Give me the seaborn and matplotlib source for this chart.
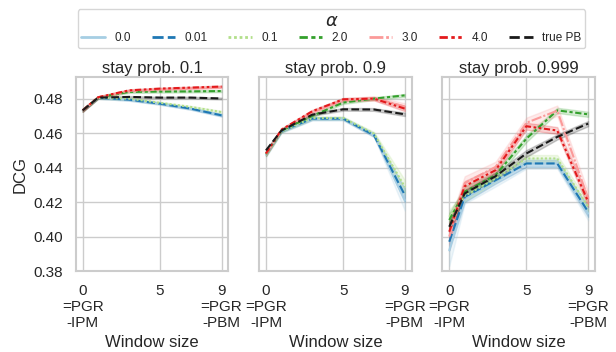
import pandas as pd
import matplotlib
matplotlib.use("Agg")
import matplotlib.pyplot as plt
import seaborn as sns

windows = [0, 1, 3, 5, 7, 9]
alphas = ["0.0", "0.01", "0.1", "2.0", "3.0", "4.0"]
stay_probs = ["0.1", "0.9", "0.999"]

# mean DCG per window size
mean_p01 = {
    "0.0": [0.4732, 0.4805, 0.4795, 0.4772, 0.4742, 0.4705],
    "0.01": [0.4732, 0.4805, 0.4794, 0.4771, 0.4742, 0.4703],
    "0.1": [0.4732, 0.4805, 0.4800, 0.4776, 0.4752, 0.4722],
    "2.0": [0.4732, 0.4807, 0.4839, 0.4841, 0.4842, 0.4844],
    "3.0": [0.4732, 0.4808, 0.4845, 0.4853, 0.4860, 0.4866],
    "4.0": [0.4732, 0.4808, 0.4848, 0.4858, 0.4864, 0.4870],
    "true PB": [0.4732, 0.4806, 0.4810, 0.4806, 0.4806, 0.4801],
}
mean_p09 = {
    "0.0": [0.4475, 0.4610, 0.4684, 0.4684, 0.4590, 0.4210],
    "0.01": [0.4480, 0.4612, 0.4684, 0.4684, 0.4588, 0.4240],
    "0.1": [0.4478, 0.4612, 0.4688, 0.4688, 0.4597, 0.4288],
    "2.0": [0.4478, 0.4615, 0.4700, 0.4777, 0.4800, 0.4819],
    "3.0": [0.4480, 0.4618, 0.4720, 0.4792, 0.4802, 0.4755],
    "4.0": [0.4482, 0.4620, 0.4727, 0.4796, 0.4800, 0.4742],
    "true PB": [0.4500, 0.4615, 0.4707, 0.4738, 0.4737, 0.4709],
}
mean_p0999 = {
    "0.0": [0.3920, 0.4220, 0.4320, 0.4424, 0.4424, 0.4134],
    "0.01": [0.3970, 0.4230, 0.4327, 0.4424, 0.4424, 0.4144],
    "0.1": [0.4115, 0.4236, 0.4337, 0.4453, 0.4453, 0.4173],
    "2.0": [0.4096, 0.4260, 0.4356, 0.4568, 0.4732, 0.4709],
    "3.0": [0.4000, 0.4310, 0.4404, 0.4660, 0.4730, 0.4221],
    "4.0": [0.4028, 0.4292, 0.4385, 0.4640, 0.4615, 0.4202],
    "true PB": [0.4057, 0.4250, 0.4350, 0.4482, 0.4578, 0.4655],
}

# half width of the shaded band
err_p01 = {
    "0.0": [0.0008, 0.0006, 0.0006, 0.0006, 0.0006, 0.0007],
    "0.01": [0.0008, 0.0006, 0.0006, 0.0006, 0.0006, 0.0007],
    "0.1": [0.0008, 0.0006, 0.0006, 0.0006, 0.0006, 0.0007],
    "2.0": [0.0008, 0.0006, 0.0006, 0.0006, 0.0006, 0.0006],
    "3.0": [0.0008, 0.0006, 0.0006, 0.0006, 0.0006, 0.0006],
    "4.0": [0.0008, 0.0006, 0.0006, 0.0006, 0.0006, 0.0006],
    "true PB": [0.0006, 0.0005, 0.0005, 0.0005, 0.0005, 0.0005],
}
err_p09 = {
    "0.0": [0.0015, 0.0010, 0.0010, 0.0010, 0.0012, 0.0060],
    "0.01": [0.0012, 0.0008, 0.0008, 0.0008, 0.0010, 0.0040],
    "0.1": [0.0012, 0.0008, 0.0008, 0.0008, 0.0010, 0.0040],
    "2.0": [0.0010, 0.0008, 0.0008, 0.0008, 0.0008, 0.0008],
    "3.0": [0.0012, 0.0008, 0.0010, 0.0010, 0.0012, 0.0018],
    "4.0": [0.0010, 0.0008, 0.0008, 0.0008, 0.0010, 0.0015],
    "true PB": [0.0008, 0.0006, 0.0006, 0.0008, 0.0008, 0.0010],
}
err_p0999 = {
    "0.0": [0.0090, 0.0030, 0.0030, 0.0030, 0.0030, 0.0040],
    "0.01": [0.0050, 0.0030, 0.0020, 0.0020, 0.0020, 0.0030],
    "0.1": [0.0040, 0.0030, 0.0020, 0.0020, 0.0020, 0.0030],
    "2.0": [0.0040, 0.0030, 0.0020, 0.0020, 0.0015, 0.0015],
    "3.0": [0.0080, 0.0040, 0.0030, 0.0030, 0.0030, 0.0040],
    "4.0": [0.0050, 0.0030, 0.0020, 0.0020, 0.0020, 0.0030],
    "true PB": [0.0030, 0.0020, 0.0020, 0.0020, 0.0015, 0.0015],
}

means = [mean_p01, mean_p09, mean_p0999]
errs = [err_p01, err_p09, err_p0999]

# long table: lower edge, mean, upper edge for every point
rows = []
for sp, m, e in zip(stay_probs, means, errs):
    for key in m:
        for w, mu, d in zip(windows, m[key], e[key]):
            for s in (-1, 0, 1):
                rows.append({"stay": sp, "alpha": key, "window": w, "DCG": mu + s * d})
df = pd.DataFrame(rows)

sns.set_theme(style="whitegrid")
plt.rcParams["font.family"] = ["Liberation Sans", "DejaVu Sans"]
plt.rcParams["axes.edgecolor"] = "#cccccc"

fig, axes = plt.subplots(1, 3, sharey=True, figsize=(6.16, 3.52), dpi=100)
fig.subplots_adjust(left=0.123, right=0.966, bottom=0.23, top=0.781, wspace=0.2)

band = lambda v: (v.min(), v.max())

for ax, sp in zip(axes, stay_probs):
    sub = df[df["stay"] == sp]
    sns.lineplot(data=sub[sub["alpha"] != "true PB"], x="window", y="DCG",
                 hue="alpha", style="alpha", hue_order=alphas, style_order=alphas,
                 palette="Paired", errorbar=band, ax=ax)
    sns.lineplot(data=sub[sub["alpha"] == "true PB"], x="window", y="DCG",
                 color="k", linestyle="--", errorbar=band, label="true PB", ax=ax)
    ax.set_title(f"stay prob. {sp}", fontsize=12, pad=3)
    ax.set_xlabel("Window size", fontsize=12)
    ax.set_ylabel("DCG" if ax is axes[0] else "", fontsize=12)
    ax.set_xticks([0, 5, 9])
    ax.set_xticklabels(["0\n=PGR\n-IPM", "5", "9\n=PGR\n-PBM"])
    ax.tick_params(labelsize=11, length=0, pad=9)
    ax.set_ylim(0.38, 0.4925)
    ax.set_yticks([0.38, 0.40, 0.42, 0.44, 0.46, 0.48])
    for sp_line in ax.spines.values():
        sp_line.set_linewidth(1.5)

handles, labels = axes[0].get_legend_handles_labels()
for ax in axes:
    ax.get_legend().remove()

leg = fig.legend(handles, labels, loc="upper center", bbox_to_anchor=(0.538, 0.99),
                 ncol=7, title=r"$\alpha$", fontsize=8.5, title_fontsize=13,
                 columnspacing=1.75, handlelength=2.0, borderpad=0.3, labelspacing=0.2)
for line in leg.get_lines():
    line.set_linewidth(2)

plt.savefig("out.png", dpi=100)
